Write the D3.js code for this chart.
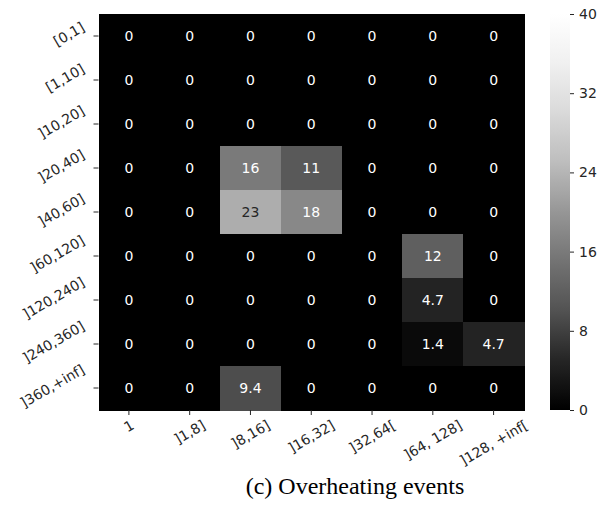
<!DOCTYPE html>
<html>
<head>
<meta charset="utf-8">
<script src="https://cdn.jsdelivr.net/npm/d3@7"></script>
<style>
  body { margin: 0; background: #fff; }
  svg text { font-family: "DejaVu Sans", sans-serif; }
</style>
</head>
<body>
<svg id="chart" width="610" height="508"></svg>
<script>
var xLabels = ['1', ']1,8]', ']8,16]', ']16,32]', ']32,64[', ']64, 128]', ']128, +inf['];
var yLabels = ['[0,1]', '[1,10]', ']10,20]', ']20,40]', ']40,60]', ']60,120]', ']120,240]', ']240,360]', ']360,+inf]'];

// one row per y label, one value per x label
var values = [
  [0, 0, 0, 0, 0, 0, 0],
  [0, 0, 0, 0, 0, 0, 0],
  [0, 0, 0, 0, 0, 0, 0],
  [0, 0, 16, 11, 0, 0, 0],
  [0, 0, 23, 18, 0, 0, 0],
  [0, 0, 0, 0, 0, 12, 0],
  [0, 0, 0, 0, 0, 4.7, 0],
  [0, 0, 0, 0, 0, 1.4, 4.7],
  [0, 0, 9.4, 0, 0, 0, 0]
];
var colorTicks = [0, 8, 16, 24, 32, 40];
var caption = '(c) Overheating events';

// matplotlib Greys_r : linear between the brewer stops
var greys = ['#000000', '#252525', '#525252', '#737373', '#969696', '#bdbdbd', '#d9d9d9', '#f0f0f0', '#ffffff'];
var color = d3.scaleLinear()
  .domain(d3.range(greys.length).map(function (i) { return 40 * i / (greys.length - 1); }))
  .range(greys)
  .clamp(true);

var svg = d3.select('#chart');
var box = { left: 98.5, top: 14, right: 524, bottom: 410 };

var x = d3.scaleBand().domain(xLabels).range([box.left, box.right]);
var y = d3.scaleBand().domain(yLabels).range([box.top, box.bottom]);

var cells = [];
values.forEach(function (row, i) {
  row.forEach(function (v, j) {
    cells.push({ row: yLabels[i], col: xLabels[j], value: v });
  });
});

var heat = svg.append('g').attr('shape-rendering', 'crispEdges');
heat.selectAll('rect')
  .data(cells)
  .enter().append('rect')
  .attr('x', function (d) { return x(d.col); })
  .attr('y', function (d) { return y(d.row); })
  .attr('width', x.bandwidth() + 1)
  .attr('height', y.bandwidth() + 1)
  .attr('fill', function (d) { return color(d.value); });

function luminance(c) {
  var rgb = d3.rgb(c);
  var f = function (v) {
    v = v / 255;
    return v <= 0.03928 ? v / 12.92 : Math.pow((v + 0.055) / 1.055, 2.4);
  };
  return 0.2126 * f(rgb.r) + 0.7152 * f(rgb.g) + 0.0722 * f(rgb.b);
}

svg.append('g').selectAll('text')
  .data(cells)
  .enter().append('text')
  .attr('x', function (d) { return x(d.col) + x.bandwidth() / 2; })
  .attr('y', function (d) { return y(d.row) + y.bandwidth() / 2; })
  .attr('text-anchor', 'middle')
  .attr('dominant-baseline', 'central')
  .attr('font-size', 14)
  .attr('fill', function (d) { return luminance(color(d.value)) > 0.408 ? '#262626' : '#ffffff'; })
  .text(function (d) { return d3.format('.2~g')(d.value); });

var rad = Math.PI / 6;

// x axis: rotated labels, bbox centred under the tick
var xAxis = svg.append('g')
  .attr('transform', 'translate(0,' + box.bottom + ')')
  .call(d3.axisBottom(x).tickSize(5).tickPadding(0));
xAxis.select('.domain').remove();
xAxis.selectAll('line').attr('stroke', '#262626').attr('stroke-width', 1);
xAxis.selectAll('text')
  .attr('font-size', 14)
  .attr('fill', '#262626')
  .attr('y', null).attr('dy', null)
  .attr('text-anchor', 'middle')
  .attr('dominant-baseline', 'central')
  .attr('transform', function () {
    var w = this.getComputedTextLength(), h = 13;
    var bh = w * Math.sin(rad) + h * Math.cos(rad);
    return 'translate(0,' + (8 + bh / 2) + ') rotate(-30)';
  });

// y axis: rotated labels, bbox right edge at the tick
var yAxis = svg.append('g')
  .attr('transform', 'translate(' + box.left + ',0)')
  .call(d3.axisLeft(y).tickSize(5).tickPadding(0));
yAxis.select('.domain').remove();
yAxis.selectAll('line').attr('stroke', '#262626').attr('stroke-width', 1);
yAxis.selectAll('text')
  .attr('font-size', 14)
  .attr('fill', '#262626')
  .attr('x', null).attr('dy', null)
  .attr('text-anchor', 'middle')
  .attr('dominant-baseline', 'central')
  .attr('transform', function () {
    var w = this.getComputedTextLength(), h = 13;
    var bw = w * Math.cos(rad) + h * Math.sin(rad);
    return 'translate(' + (-12 - bw / 2) + ',-2) rotate(-30)';
  });

// colorbar
var cb = { x: 550, w: 20 };
var cScale = d3.scaleLinear().domain([0, 40]).range([box.bottom, box.top]);
var grad = svg.append('defs').append('linearGradient')
  .attr('id', 'cbgrad')
  .attr('x1', 0).attr('y1', 1).attr('x2', 0).attr('y2', 0);
grad.selectAll('stop')
  .data(d3.range(0, 41, 1))
  .enter().append('stop')
  .attr('offset', function (d) { return d / 40; })
  .attr('stop-color', function (d) { return color(d); });
svg.append('rect')
  .attr('x', cb.x).attr('y', box.top)
  .attr('width', cb.w).attr('height', box.bottom - box.top)
  .attr('fill', 'url(#cbgrad)');

var cAxis = svg.append('g')
  .attr('transform', 'translate(' + (cb.x + cb.w) + ',0)')
  .call(d3.axisRight(cScale).tickValues(colorTicks).tickSize(4).tickPadding(5));
cAxis.select('.domain').remove();
cAxis.selectAll('line').attr('stroke', '#262626');
cAxis.selectAll('text').attr('font-size', 14).attr('fill', '#262626');

svg.append('text')
  .attr('x', 355)
  .attr('y', 494)
  .attr('text-anchor', 'middle')
  .style('font-family', '"Liberation Serif", "Times New Roman", serif')
  .attr('font-size', 24)
  .attr('fill', '#000')
  .text(caption);
</script>
</body>
</html>
